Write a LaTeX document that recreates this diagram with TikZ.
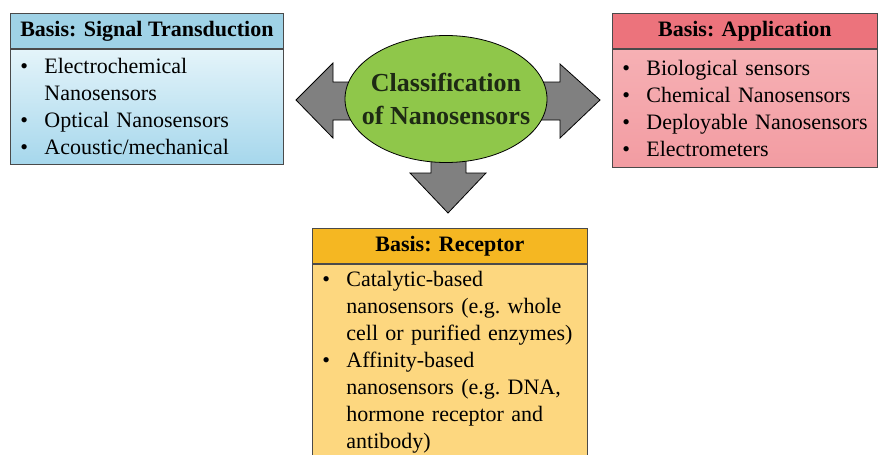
\documentclass[tikz,border=0pt]{standalone}
\usepackage{fontspec}
\setmainfont{Liberation Serif}
\usetikzlibrary{shapes.geometric,positioning}

\definecolor{sigHead}{HTML}{9FD2E6}
\definecolor{sigTop}{HTML}{E4F4FA}
\definecolor{sigBot}{HTML}{A6D7EC}
\definecolor{appHead}{HTML}{EC737C}
\definecolor{appTop}{HTML}{F6B0B4}
\definecolor{appBot}{HTML}{F29CA2}
\definecolor{recHead}{HTML}{F5B722}
\definecolor{recBody}{HTML}{FDD77F}
\definecolor{clsFill}{HTML}{8FC74A}
\definecolor{arrFill}{HTML}{808080}
\definecolor{boxLine}{HTML}{4A4A4A}
\definecolor{clsText}{HTML}{1E2A14}

\newcommand{\bitem}[1]{\mbox{\makebox[24pt][l]{\textbullet}#1}}
\newcommand{\bcont}[1]{\mbox{\hspace*{24pt}#1}}

\tikzset{
  hdr/.style={draw=boxLine,thick,font=\fontsize{22}{27}\selectfont\bfseries,
    minimum height=35pt,inner sep=0pt,anchor=north west},
  bodybox/.style={draw=boxLine,thick,font=\fontsize{22}{27}\selectfont\frenchspacing,
    align=left,inner xsep=10pt,inner ysep=0pt,anchor=north},
  blockarr/.style={draw=black,thick,fill=arrFill,line join=miter}
}

\begin{document}
\begin{tikzpicture}[x=1pt,y=-1pt]
  \clip (0,0) rectangle (878,455);
  \useasboundingbox (0,0) rectangle (878,455);

  % block arrows behind the ellipse
  \draw[blockarr] (296,100) -- (333,63) -- (333,82) -- (380,82) -- (380,120) -- (333,120) -- (333,138) -- cycle;
  \draw[blockarr] (600,100) -- (560,64) -- (560,82) -- (510,82) -- (510,120) -- (560,120) -- (560,138) -- cycle;
  \draw[blockarr] (448,213) -- (410,173) -- (431,173) -- (431,140) -- (466,140) -- (466,173) -- (486,173) -- cycle;

  \node[ellipse,draw=black,thick,fill=clsFill,minimum width=202pt,minimum height=127pt,
    inner sep=0pt] (cls) at (446,99) {};
  \node[align=center,text=clsText,font=\fontsize{26}{33}\selectfont\bfseries]
    (clsT) at (cls.center) {Classification\\of Nanosensors};

  % signal transduction
  \node[hdr,fill=sigHead,minimum width=273pt] (sigH) at (10,13) {Basis: Signal Transduction};
  \node[bodybox,top color=sigTop,bottom color=sigBot,minimum height=115pt,
    text width=253pt,below=0pt of sigH] (sigB)
    {\bitem{Electrochemical}\\ \bcont{Nanosensors}\\ \bitem{Optical Nanosensors}\\ \bitem{Acoustic/mechanical}};

  % application
  \node[hdr,fill=appHead,minimum width=265pt] (appH) at (612,13) {Basis: Application};
  \node[bodybox,top color=appTop,bottom color=appBot,minimum height=118pt,
    text width=245pt,below=0pt of appH] (appB)
    {\bitem{Biological sensors}\\ \bitem{Chemical Nanosensors}\\ \bitem{Deployable Nanosensors}\\ \bitem{Electrometers}};

  % receptor
  \node[hdr,fill=recHead,minimum width=275pt] (recH) at (312,228) {Basis: Receptor};
  \node[bodybox,fill=recBody,minimum height=196pt,
    text width=255pt,below=0pt of recH] (recB)
    {\bitem{Catalytic-based}\\ \bcont{nanosensors (e.g. whole}\\ \bcont{cell or purified enzymes)}\\
     \bitem{Affinity-based}\\ \bcont{nanosensors (e.g. DNA,}\\ \bcont{hormone receptor and}\\ \bcont{antibody)}};
\end{tikzpicture}
\end{document}
